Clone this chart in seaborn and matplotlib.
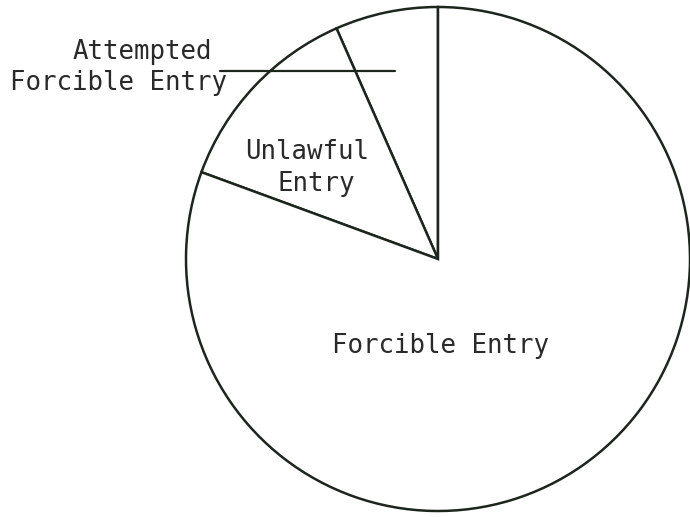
import matplotlib
matplotlib.use("Agg")
import matplotlib.pyplot as plt
import seaborn as sns

categories = ["Attempted\nForcible Entry", "Unlawful\nEntry", "Forcible Entry"]
values = [6.6, 12.8, 80.6]

sns.set_style("white")
plt.rcParams['font.family'] = ['DejaVu Sans Mono', 'DejaVu Sans']

W, H = 690, 517
fig = plt.figure(figsize=(6.9, 5.17), dpi=100)
ax = fig.add_axes([0, 0, 1, 1])
ax.set_xlim(0, W)
ax.set_ylim(0, H)
ax.set_aspect('equal')
ax.axis('off')

ink = '#1c261c'
cx, cy, r = 438, H - 259, 252
ax.pie(values, startangle=90, counterclock=True, center=(cx, cy), radius=r,
       colors=['white'] * 3,
       wedgeprops=dict(edgecolor=ink, linewidth=1.8), frame=True)
ax.set_xlim(0, W)
ax.set_ylim(0, H)
ax.axis('off')

txt = dict(color='#2a2a2a', fontsize=18.5)
ax.text(142, H - 52, "Attempted", ha='center', va='center', **txt)
ax.text(118, H - 83, "Forcible Entry", ha='center', va='center', **txt)
ax.plot([220, 395], [H - 71, H - 71], color=ink, lw=1.6)
ax.text(307, H - 152, "Unlawful", ha='center', va='center', **txt)
ax.text(316, H - 184, "Entry", ha='center', va='center', **txt)
ax.text(441, H - 346, "Forcible Entry", ha='center', va='center', **txt)

fig.savefig("out.png", dpi=100, facecolor='white')
